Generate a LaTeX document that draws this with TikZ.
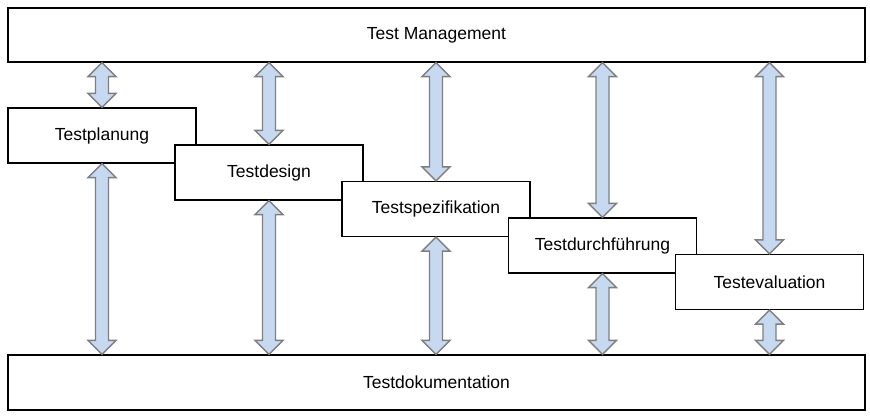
\documentclass[tikz,border=0pt]{standalone}
\usepackage{fontspec}
\setmainfont{Liberation Sans}
\usetikzlibrary{calc}
\definecolor{arrfill}{HTML}{C6D9F0}
\definecolor{arrline}{HTML}{7F7F7F}
\tikzset{
  box/.style={draw=black, line width=1.3pt, fill=white, rectangle, inner sep=0pt,
    minimum height=55pt, minimum width=188pt, font=\fontsize{17.5}{20}\selectfont},
  wide/.style={box, minimum width=857pt},
  arr/.style={draw=arrline, fill=arrfill, line width=1.4pt, line join=miter}
}
\newcommand\dblarr[2]{%
  \path[arr] let \p1=(#1.south -| #2.north), \p2=(#2.north) in
    (\x1,\y1) -- (\x1+14pt,\y1-14pt) -- (\x1+6.5pt,\y1-14pt) -- (\x1+6.5pt,\y2+14pt)
    -- (\x1+14pt,\y2+14pt) -- (\x2,\y2) -- (\x1-14pt,\y2+14pt) -- (\x1-6.5pt,\y2+14pt)
    -- (\x1-6.5pt,\y1-14pt) -- (\x1-14pt,\y1-14pt) -- cycle;}
\newcommand\dblarrdown[2]{%
  \path[arr] let \p1=(#1.south), \p2=(#2.north -| #1.south) in
    (\x1,\y1) -- (\x1+14pt,\y1-14pt) -- (\x1+6.5pt,\y1-14pt) -- (\x1+6.5pt,\y2+14pt)
    -- (\x1+14pt,\y2+14pt) -- (\x2,\y2) -- (\x1-14pt,\y2+14pt) -- (\x1-6.5pt,\y2+14pt)
    -- (\x1-6.5pt,\y1-14pt) -- (\x1-14pt,\y1-14pt) -- cycle;}
\begin{document}
\begin{tikzpicture}[x=1pt,y=1pt]
\useasboundingbox (0,0) rectangle (870,417);
\node[wide, minimum height=54pt] (mgmt) at (436.5,382) {Test Management};
\node[wide] (doku) at (436.5,34.5) {Testdokumentation};
\node[box] (b1) at (102,281.5) {Testplanung};
\node[box] (b2) at (269,244.5) {Testdesign};
\node[box] (b3) at (436,208) {Testspezifikation};
\node[box] (b4) at (602.5,171.5) {Testdurchführung};
\node[box] (b5) at (769.5,135) {Testevaluation};
\dblarr{mgmt}{b1}
\dblarr{mgmt}{b2}
\dblarr{mgmt}{b3}
\dblarr{mgmt}{b4}
\dblarr{mgmt}{b5}
\dblarrdown{b1}{doku}
\dblarrdown{b2}{doku}
\dblarrdown{b3}{doku}
\dblarrdown{b4}{doku}
\dblarrdown{b5}{doku}
\end{tikzpicture}
\end{document}
